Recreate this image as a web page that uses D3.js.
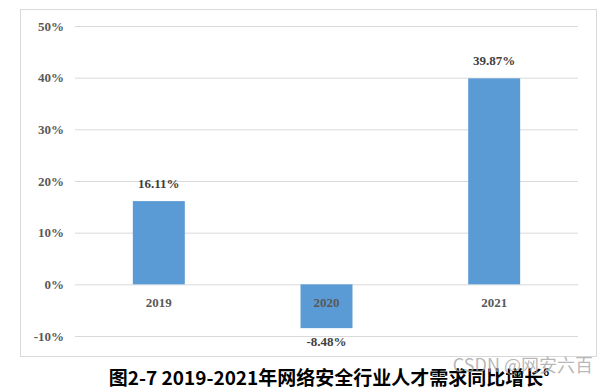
<!DOCTYPE html>
<html>
<head>
<meta charset="utf-8">
<script src="https://cdn.jsdelivr.net/npm/d3@7"></script>
<style>
  body { margin: 0; background: #fff; }
  .serif { font-family: "Liberation Serif", "Times New Roman", serif; font-weight: bold; font-size: 13px; }
</style>
</head>
<body>
<div class="chart"></div>
<script>

var years = ["2019", "2020", "2021"];
var growth = [16.11, -8.48, 39.87];
var yTicks = [-10, 0, 10, 20, 30, 40, 50];

var width = 609, height = 390;
var plot = {left: 75, right: 578, top: 26, bottom: 336};

var svg = d3.select(".chart")
  .append("svg")
    .attr("width", width)
    .attr("height", height);

svg.append("rect")
  .attr("width", width)
  .attr("height", height)
  .attr("fill", "#fff");

// chart box
svg.append("rect")
  .attr("x", 20.5)
  .attr("y", 9.5)
  .attr("width", 576)
  .attr("height", 347)
  .attr("fill", "#fff")
  .attr("stroke", "#d9d9d9")
  .attr("stroke-width", 1);

var x = d3.scaleBand()
  .domain(years)
  .range([plot.left, plot.right])
  .paddingInner(0.69)
  .paddingOuter(0.345);

var y = d3.scaleLinear()
  .domain([-10, 50])
  .range([plot.bottom, plot.top]);

// gridlines + y labels
var yAxis = d3.axisLeft(y)
  .tickValues(yTicks)
  .tickSize(-(plot.right - plot.left))
  .tickPadding(11)
  .tickFormat(function(d) { return d + "%"; });

var gy = svg.append("g")
  .attr("transform", "translate(" + plot.left + ",0)")
  .call(yAxis);
gy.select(".domain").remove();
gy.attr("font-family", null).attr("font-size", null);
gy.selectAll(".tick line")
  .attr("stroke", "#d9d9d9")
  .attr("stroke-width", 1);
gy.selectAll(".tick text")
  .attr("class", "serif")
  .attr("fill", "#595959");

// bars
svg.selectAll(".bar")
  .data(growth)
  .enter().append("rect")
    .attr("class", "bar")
    .attr("x", function(d, i) { return x(years[i]); })
    .attr("width", x.bandwidth())
    .attr("y", function(d) { return y(Math.max(0, d)); })
    .attr("height", function(d) { return Math.abs(y(d) - y(0)); })
    .attr("fill", "#5b9bd5");

// category labels
svg.selectAll(".cat")
  .data(years)
  .enter().append("text")
    .attr("class", "serif")
    .attr("x", function(d) { return x(d) + x.bandwidth() / 2; })
    .attr("y", y(0) + 23)
    .attr("text-anchor", "middle")
    .attr("fill", "#595959")
    .text(function(d) { return d; });

// value labels
svg.selectAll(".val")
  .data(growth)
  .enter().append("text")
    .attr("class", "serif")
    .attr("x", function(d, i) { return x(years[i]) + x.bandwidth() / 2; })
    .attr("y", function(d) { return d >= 0 ? y(d) - 13 : y(d) + 18; })
    .attr("text-anchor", "middle")
    .attr("fill", "#404040")
    .text(function(d) { return d.toFixed(2) + "%"; });

// caption
var cap = svg.append("text")
  .attr("x", 329)
  .attr("y", 385)
  .attr("text-anchor", "middle")
  .attr("fill", "#000")
  .style("font-family", "Noto Sans CJK SC")
  .style("font-weight", "bold")
  .style("font-size", "19px");
cap.append("tspan").text("图2-7 2019-2021年网络安全行业人才需求同比增长");
cap.append("tspan")
  .attr("dy", -9)
  .style("font-size", "10px")
  .text("6");

// watermark
svg.append("text")
  .attr("x", 593)
  .attr("y", 372)
  .attr("text-anchor", "end")
  .attr("fill", "#a0a0a0")
  .attr("fill-opacity", 0.75)
  .style("font-family", "Noto Sans CJK SC")
  .style("font-size", "18px")
  .text("CSDN @网安六百");

</script>
</body>
</html>
